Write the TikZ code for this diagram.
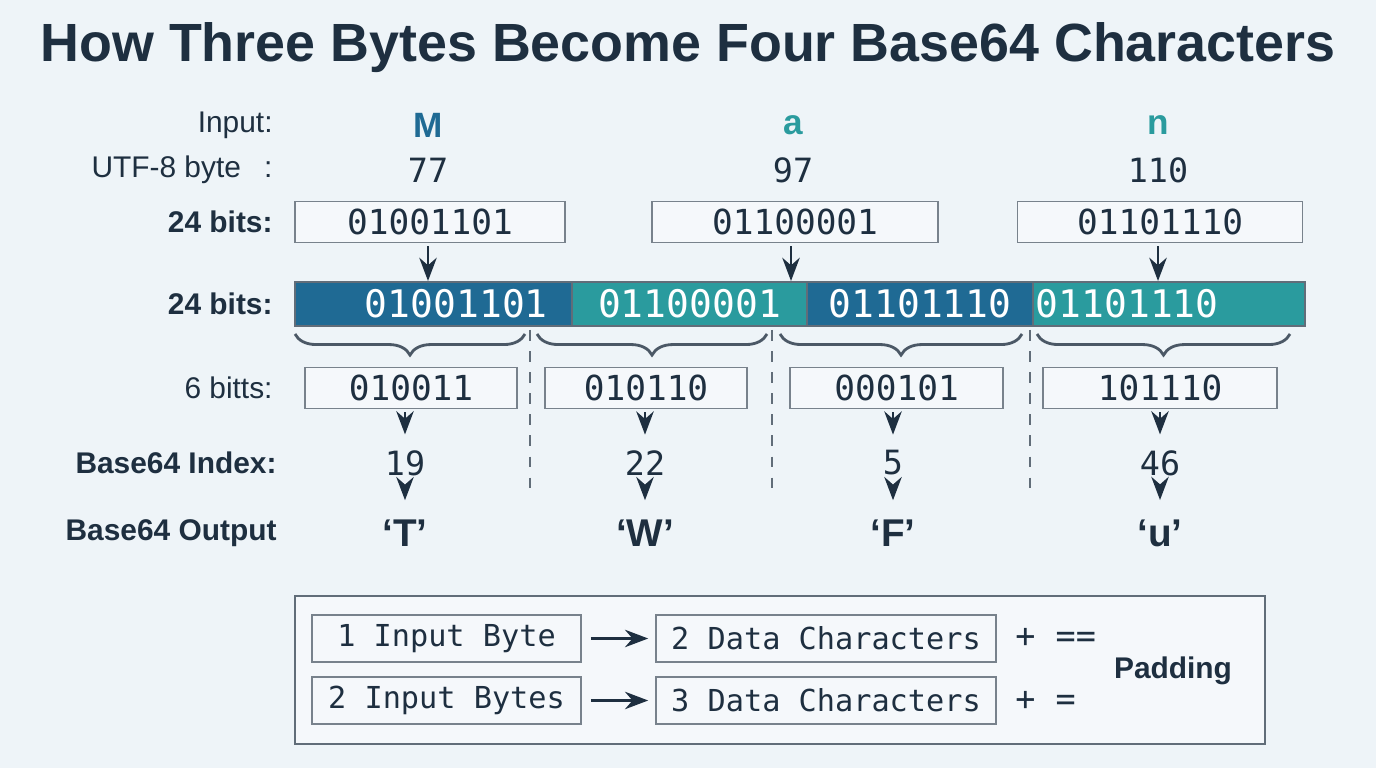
\documentclass[tikz,border=0pt]{standalone}
\usepackage{fontspec}
\setmainfont{Liberation Sans}
\setmonofont{DejaVu Sans Mono}
\usetikzlibrary{arrows.meta, positioning, decorations.pathreplacing}
\definecolor{ink}{HTML}{1E2F40}
\definecolor{paper}{HTML}{EEF4F8}
\definecolor{deep}{HTML}{1F6A94}
\definecolor{teal}{HTML}{2A9B9E}
\definecolor{boxfill}{HTML}{F5F8FB}
\begin{document}
\begin{tikzpicture}[
    x=0.01cm, y=-0.01cm,
    >=Stealth,
    rowlabel/.style={anchor=east, text=ink, font=\fontsize{8.5}{10}\selectfont},
    boldlabel/.style={rowlabel, font=\fontsize{8.5}{10}\selectfont\bfseries},
    bitbox/.style={draw=ink!60, fill=boxfill, text=ink, minimum height=0.41cm, font=\ttfamily\fontsize{9.8}{11}\selectfont, inner sep=0pt},
    legbox/.style={bitbox, minimum height=0.47cm, font=\ttfamily\fontsize{8.6}{10}\selectfont},
    seg/.style={draw=ink!70, minimum height=0.44cm, text=white, font=\ttfamily\fontsize{10.8}{12}\selectfont, inner sep=0pt},
    flow/.style={->, thick, ink},
    num/.style={text=ink, font=\ttfamily\fontsize{9.5}{11}\selectfont},
    outchar/.style={text=ink, font=\fontsize{11}{13}\selectfont\bfseries},
    brace/.style={decorate, decoration={brace, mirror, amplitude=6pt}, ink!80, thick},
    divider/.style={dashed, ink!70, thin}
]
\fill[paper] (0,0) rectangle (1376,768);

% Title
\node[text=ink, font=\fontsize{15.3}{18}\selectfont\bfseries] (title) at (688,48) {How Three Bytes Become Four Base64 Characters};

% Row labels
\node[rowlabel] (lInput) at (285,125) {Input:};
\node[rowlabel] (lUtf) at (285,170) {UTF-8 byte\enspace\ :};
\node[boldlabel] (lBits) at (285,222) {24 bits:};
\node[boldlabel] (lJoin) at (285,304) {24 bits:};
\node[rowlabel] (lSix) at (285,388) {6 bitts:};
\node[boldlabel] (lIndex) at (289,463) {Base64 Index:};
\node[boldlabel] (lOut) at (289,533) {Base64 Output};

% Input characters and bytes
\node[font=\fontsize{10}{12}\selectfont\bfseries, text=deep] (cM) at (428,125) {M};
\node[font=\fontsize{10}{12}\selectfont\bfseries, text=teal] (cA) at (793,125) {a};
\node[font=\fontsize{10}{12}\selectfont\bfseries, text=teal] (cN) at (1158,125) {n};
\node[num] (bM) at (428,170) {77};
\node[num] (bA) at (793,170) {97};
\node[num] (bN) at (1158,170) {110};

% Byte boxes
\node[bitbox, minimum width=2.70cm] (byM) at (430,222) {01001101};
\node[bitbox, minimum width=2.86cm] (byA) at (795,222) {01100001};
\node[bitbox, minimum width=2.85cm] (byN) at (1160,222) {01101110};

% Joined 24-bit bar
\node[seg, fill=deep, minimum width=2.77cm] (s1) at (433.5,304) {\hspace*{1.2em}01001101};
\node[seg, fill=teal, minimum width=2.35cm] (s2) at (689.5,304) {01100001};
\node[seg, fill=deep, minimum width=2.26cm] (s3) at (920,304) {01101110};
\node[seg, fill=teal, minimum width=2.72cm] (s4) at (1169,304) {01101110\hspace*{2.2em}};
\coordinate (jM) at (428,281);
\coordinate (jA) at (791,281);
\coordinate (jN) at (1158,281);
\draw[flow] (byM.south -| jM) ++(0,3) -- (jM);
\draw[flow] (byA.south -| jA) ++(0,3) -- (jA);
\draw[flow] (byN.south -| jN) ++(0,3) -- (jN);

% Braces and dividers
\draw[brace] (295,334) -- (525,334);
\draw[brace] (537,334) -- (767,334);
\draw[brace] (780,334) -- (1022,334);
\draw[brace] (1037,334) -- (1290,334);
\foreach \xd in {530,772,1030}
    \draw[divider] (\xd,330) -- (\xd,490);

% 6-bit groups
\node[bitbox, minimum width=2.12cm] (g1) at (411,388) {010011};
\node[bitbox, minimum width=2.02cm] (g2) at (646,388) {010110};
\node[bitbox, minimum width=2.13cm] (g3) at (896.5,388) {000101};
\node[bitbox, minimum width=2.34cm] (g4) at (1160,388) {101110};

% Indices and output characters
\node[num] (i1) at (405,463) {19};
\node[num] (i2) at (645,463) {22};
\node[num] (i3) at (893,463) {5};
\node[num] (i4) at (1160,463) {46};
\node[outchar] (o1) at (405,533) {‘T’};
\node[outchar] (o2) at (645,533) {‘W’};
\node[outchar] (o3) at (893,533) {‘F’};
\node[outchar] (o4) at (1160,533) {‘u’};
\foreach \k in {1,2,3,4} {
    \draw[flow] (g\k.south -| i\k) ++(0,3) -- ([yshift=1pt]i\k.north);
    \draw[flow] (i\k.south) -- ([yshift=2pt]o\k.north);
}

% Padding legend
\draw[ink!70, fill=boxfill] (295,596) rectangle (1265,744);
\node[legbox, minimum width=2.69cm] (in1) at (446.5,638.5) {1 Input Byte};
\node[legbox, minimum width=3.40cm] (dc1) at (826,638.5) {2 Data Characters};
\node[legbox, minimum width=2.69cm] (in2) at (446.5,700.5) {2 Input Bytes};
\node[legbox, minimum width=3.40cm] (dc2) at (826,700.5) {3 Data Characters};
\draw[flow] ([xshift=0.09cm]in1.east) -- ([xshift=-0.07cm]dc1.west);
\draw[flow] ([xshift=0.09cm]in2.east) -- ([xshift=-0.07cm]dc2.west);
\node[num, anchor=west] (p1) at (1003,638) {+ ==};
\node[num, anchor=west] (p2) at (1003,701) {+ =};
\node[outchar, font=\fontsize{8.5}{10}\selectfont\bfseries] (pad) at (1173,671) {Padding};
\end{tikzpicture}
\end{document}
